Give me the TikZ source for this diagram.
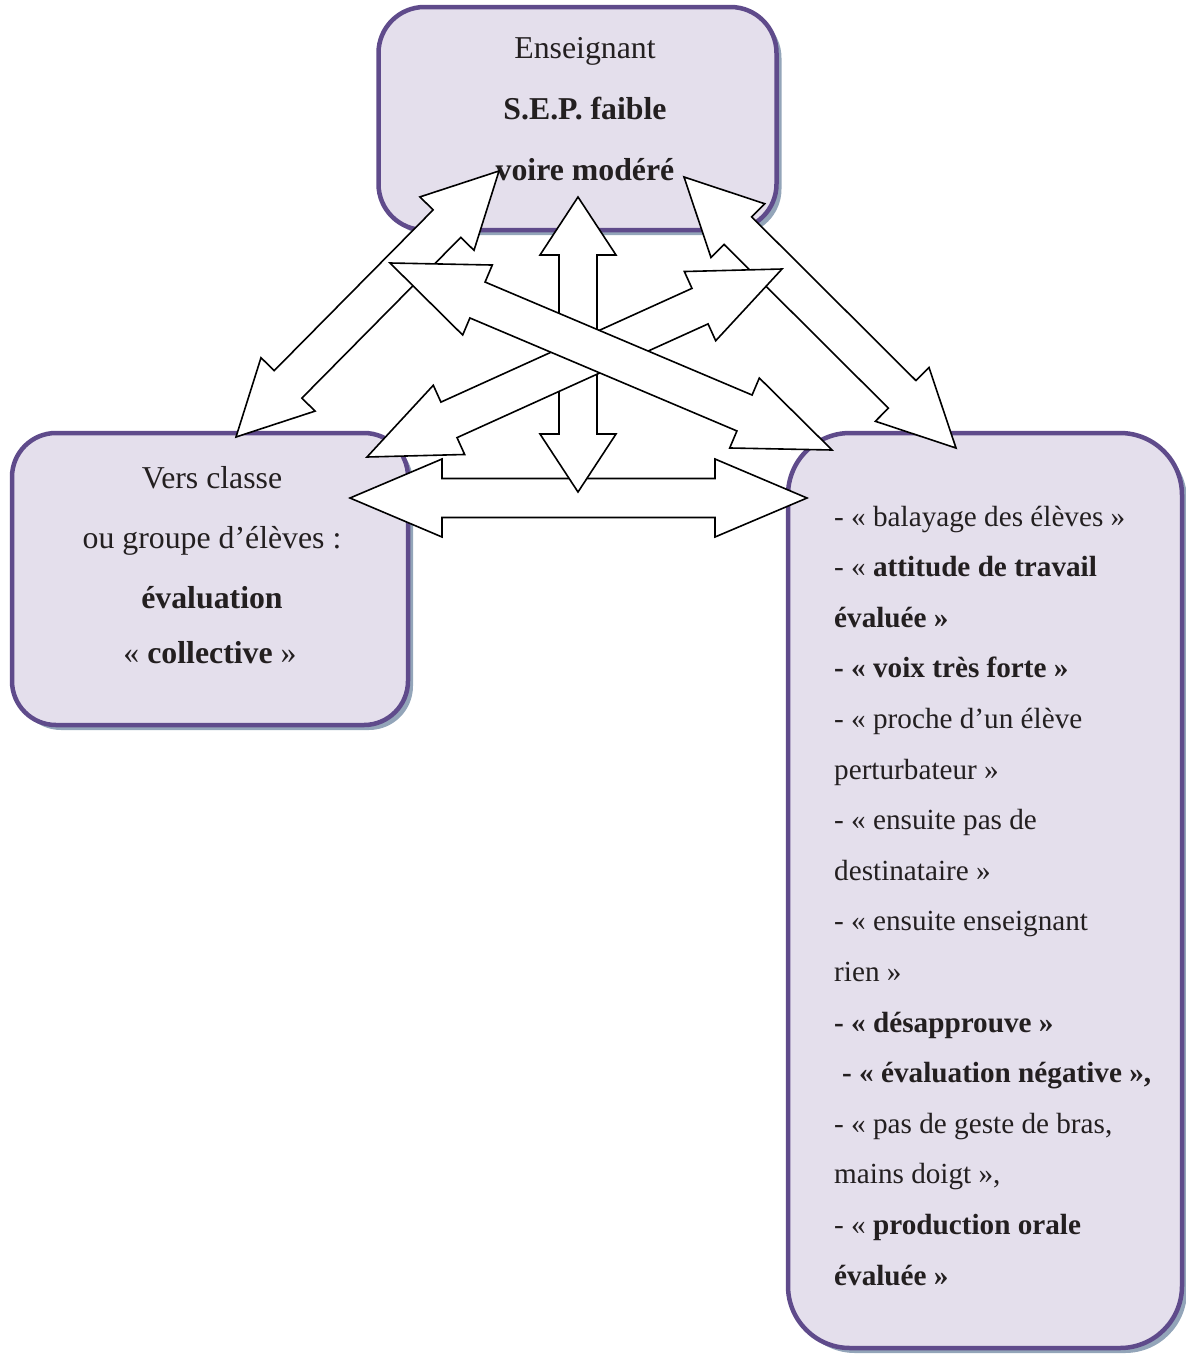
\documentclass[tikz,border=0pt]{standalone}
\usepackage{fontspec}
\setmainfont{Liberation Serif}
\usetikzlibrary{calc,shadows}
\definecolor{boxfill}{HTML}{E4DFEC}
\definecolor{boxline}{HTML}{5F4B8B}
\definecolor{shadowc}{HTML}{93A5B9}
\definecolor{txt}{HTML}{231F20}
\tikzset{
  boxstyle/.style={draw=boxline, line width=4.5pt, fill=boxfill, inner sep=0pt,
    drop shadow={shadow xshift=5pt, shadow yshift=-5pt, fill=shadowc, opacity=1}},
  bigtext/.style={text=txt, font=\fontsize{31.8pt}{36pt}\selectfont, inner sep=0pt, anchor=base},
  smalltext/.style={text=txt, font=\fontsize{29.2pt}{34pt}\selectfont, inner sep=0pt, anchor=base west},
  blockarr/.style={draw=black, fill=white, line width=1.6pt, line join=miter}
}
% #1 tip A, #2 tip B, #3 head length, #4 head half width, #5 shaft half width
\newcommand{\dblblockarrow}[5]{%
  \draw[blockarr] (#1)
    -- ($(#1)!#3!(#2)!#4!90:(#2)$)
    -- ($(#1)!#3!(#2)!#5!90:(#2)$)
    -- ($(#2)!#3!(#1)!#5!-90:(#1)$)
    -- ($(#2)!#3!(#1)!#4!-90:(#1)$)
    -- (#2)
    -- ($(#2)!#3!(#1)!#4!90:(#1)$)
    -- ($(#2)!#3!(#1)!#5!90:(#1)$)
    -- ($(#1)!#3!(#2)!#5!-90:(#2)$)
    -- ($(#1)!#3!(#2)!#4!-90:(#2)$)
    -- cycle;}
\begin{document}
\begin{tikzpicture}[x=1pt,y=-1pt]
\useasboundingbox (0,0) rectangle (1186,1355);
% boxes
\node[boxstyle, rounded corners=46pt, minimum width=398pt, minimum height=223pt] (top) at (577.5,118.5) {};
\node[boxstyle, rounded corners=44pt, minimum width=396pt, minimum height=292pt] (left) at (210,579) {};
\node[boxstyle, rounded corners=62pt, minimum width=394pt, minimum height=915pt] (right) at (985,890.5) {};
% texts of top box
\node[bigtext] (t1) at (585,58) {Enseignant};
\node[bigtext] (t2) at (585,119) {\bfseries S.E.P. faible};
\node[bigtext] (t3) at (585,180) {\bfseries voire modéré};
% texts of left box
\node[bigtext] (l1) at (212,488) {Vers classe};
\node[bigtext] (l2) at (212,548) {ou groupe d’élèves :};
\node[bigtext] (l3) at (212,608) {\bfseries évaluation};
\node[bigtext] (l4) at (210,663) {« \textbf{collective} »};
% texts of right box
\node[smalltext] (r1)  at (834,526.0)  {- « balayage des élèves »};
\node[smalltext] (r2)  at (834,576.6)  {- « \textbf{attitude de travail}};
\node[smalltext] (r3)  at (834,627.2)  {\bfseries évaluée »};
\node[smalltext] (r4)  at (834,677.8)  {\bfseries - « voix très forte »};
\node[smalltext] (r5)  at (834,728.4)  {- « proche d’un élève};
\node[smalltext] (r6)  at (834,779.0)  {perturbateur »};
\node[smalltext] (r7)  at (834,829.6)  {- « ensuite pas de};
\node[smalltext] (r8)  at (834,880.2)  {destinataire »};
\node[smalltext] (r9)  at (834,930.8)  {- « ensuite enseignant};
\node[smalltext] (r10) at (834,981.4)  {rien »};
\node[smalltext] (r11) at (834,1032.0) {\bfseries - « désapprouve »};
\node[smalltext] (r12) at (842,1082.6) {\bfseries - « évaluation négative »,};
\node[smalltext] (r13) at (834,1133.2) {- « pas de geste de bras,};
\node[smalltext] (r14) at (834,1183.8) {mains doigt »,};
\node[smalltext] (r15) at (834,1234.4) {- « \textbf{production orale}};
\node[smalltext] (r16) at (834,1285.0) {\bfseries évaluée »};
% arrow tips
\coordinate (hA) at (350,498);  \coordinate (hB) at (807,498);
\coordinate (vA) at (578,197);  \coordinate (vB) at (578,492);
\coordinate (dA) at (236,437);  \coordinate (dB) at (499,171);
\coordinate (eA) at (684,177);  \coordinate (eB) at (956,448);
\coordinate (fA) at (367,457);  \coordinate (fB) at (782,269);
\coordinate (gA) at (390,263);  \coordinate (gB) at (832,450);
% block arrows
\dblblockarrow{hA}{hB}{92pt}{39pt}{19.5pt}
\dblblockarrow{vA}{vB}{58pt}{38pt}{19pt}
\dblblockarrow{dA}{dB}{74pt}{38pt}{19.5pt}
\dblblockarrow{eA}{eB}{76pt}{38pt}{19.5pt}
\dblblockarrow{fA}{fB}{90pt}{38pt}{19.5pt}
\dblblockarrow{gA}{gB}{95pt}{38pt}{19.5pt}
\end{tikzpicture}
\end{document}
